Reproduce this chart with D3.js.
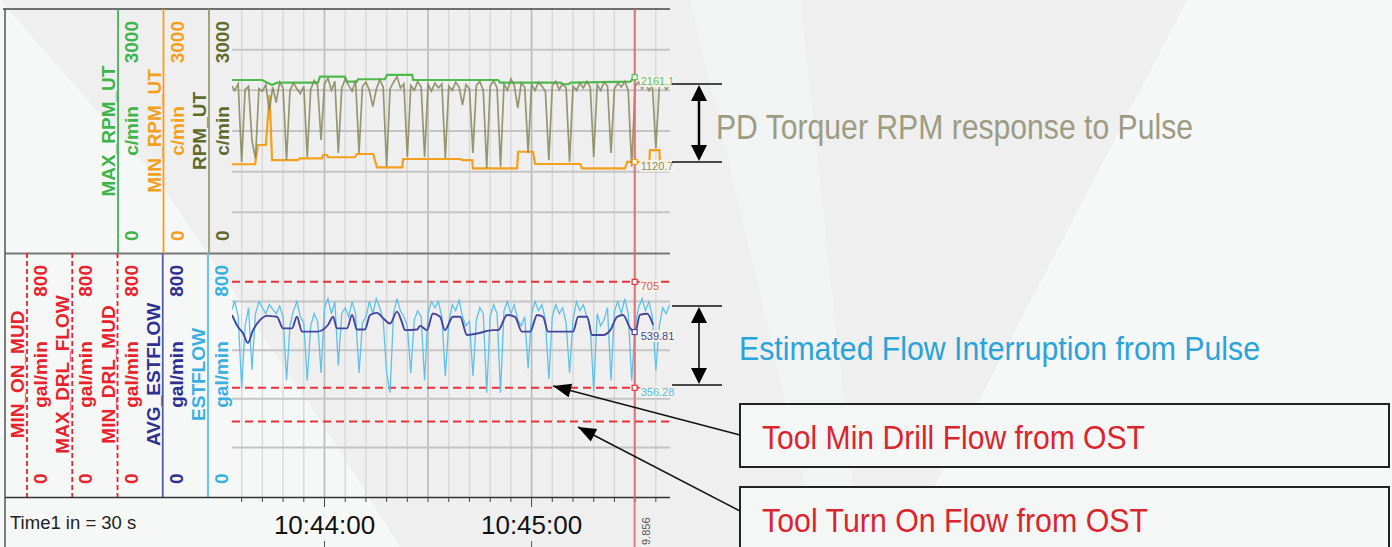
<!DOCTYPE html>
<html><head><meta charset="utf-8">
<script src="https://cdn.jsdelivr.net/npm/d3@7"></script>
<style>html,body{margin:0;padding:0;background:#efefef;}svg{display:block;}</style>
</head><body>
<svg id="chart" width="1392" height="547"></svg>
<script>
// ---------------- DATA ----------------
// seconds after 10:43:30
const rpmTimes = d3.range(3, 131);
const rpmUT = [
2060,2000,2080,1120,2010,2050,1380,1160,2020,1990,
2070,1750,2040,1850,2100,2030,1140,2000,2090,2020,
1960,2050,1180,2010,2120,2060,1390,2080,2150,2000,
2110,1230,2030,2140,2060,1990,2120,1230,2050,2100,
2000,1800,2010,2130,2040,1060,2020,2100,2170,2030,
2080,1180,2060,2000,2110,2040,1180,2070,1990,2090,
2030,2080,1170,2050,2000,2100,2040,1820,2070,2020,
1230,2060,2110,2000,1045,2050,2120,2030,1060,2080,
2000,2140,2060,1780,2090,2040,1230,2070,2000,2100,
2050,1990,1140,2060,2110,2010,2080,2030,1120,2050,
2000,2090,2030,2110,2040,1180,2070,2000,2100,2050,
1230,2020,2090,2040,2110,2000,1060,2050,2100,2020,
2080,2000,2060,1290,2040,2090,2010,2060];
const maxRpmT = [3.2,11.9,14.8,16.2,28.1,28.7,35.9,36.5,39.4,39.7,47.5,48.1,55.4,55.7,80.3,80.9,98.3,99.1,100.6,101.4,118.6,119.7];
const maxRpmV = [2127,2127,2066,2094,2094,2168,2168,2106,2106,2136,2136,2189,2189,2127,2127,2094,2094,2075,2075,2094,2106,2161];
const minRpmT = [3.2,9.9,10.7,13.0,14.1,14.8,22.3,22.9,29.3,29.6,30.7,31.0,38.8,39.4,44.1,45.2,52.5,52.8,69.3,69.9,72.8,73.0,85.8,86.1,90.4,91.0,104.1,104.6,117.1,117.7,124.1,124.3,127.0,127.2,130.1];
const minRpmV = [1091,1091,1328,1328,1943,1143,1143,1164,1164,1205,1205,1177,1177,1217,1217,1054,1054,1156,1156,1143,1143,1041,1041,1245,1245,1094,1094,1041,1041,1121,1121,1266,1266,1121,1121];

const flowTimes = d3.range(3, 131);
const estFlow = [
610,640,590,355,560,620,415,600,640,620,
600,630,615,600,625,590,380,560,610,640,
590,570,380,560,600,575,405,620,650,600,
640,430,600,620,590,640,600,405,570,590,
640,600,650,620,580,405,340,600,650,610,
590,560,405,580,610,590,380,600,640,620,
640,590,395,570,630,610,645,590,560,575,
395,580,620,600,340,590,630,600,340,610,
640,600,630,580,560,590,420,600,640,610,
630,580,385,590,630,600,620,570,405,580,
640,610,630,590,560,345,600,560,580,620,
380,610,640,600,650,600,380,560,620,650,
610,640,590,413,560,620,600,630];
const avgFlowT = [3.2,4.9,6.4,7.8,9.3,11.3,13.3,16.2,18.0,20.6,22.0,23.5,27.8,31.0,32.5,33.6,36.5,38.0,39.4,41.7,43.2,45.2,47.0,49.0,51.0,52.5,53.3,56.8,57.7,59.7,61.4,63.5,64.9,67.2,69.3,71.3,74.2,78.8,80.3,82.9,85.2,87.2,89.6,91.6,93.3,94.8,102.0,103.5,106.1,107.5,110.7,112.8,114.8,116.5,118.6,120.0,121.4,123.5,125.2];
const avgFlowV = [596,557,536,504,546,579,593,590,552,552,590,541,541,563,590,552,552,596,548,548,596,603,585,568,607,570,546,548,560,546,601,590,546,590,590,530,535,546,546,596,590,541,541,596,590,541,541,590,590,530,530,546,590,596,552,540,596,600,563];

const maxDrlFlow = 705, minDrlMud = 356.28, minOnMud = 245;
const cursorSec = 119.856;
const cursorLabels = ["2161.1","1120.7","705","539.81","356.28"];
const cursorValues = [2161.1, 1120.7, 705, 539.81, 356.28];
const cursorTimeTail = "9.856";

const topAxisNames = ["MAX_RPM_UT","MIN_RPM_UT","RPM_UT"];
const topAxisUnits = ["c/min","c/min","c/min"];
const topAxisColors = ["#3db54a","#f5a01c","#5f6b2c"];
const topLineColors = ["#3db54a","#f5a01c","#9a9a6e"];
const botAxisNames = ["MIN_ON_MUD","MAX_DRL_FLOW","MIN_DRL_MUD","AVG_ESTFLOW","ESTFLOW"];
const botAxisUnits = ["gal/min","gal/min","gal/min","gal/min","gal/min"];
const botAxisColors = ["#e8232b","#e8232b","#e8232b","#2e3192","#3ab0e2"];
const botLineColors = ["#e8232b","#e8232b","#e8232b","#5a5aa8","#5bbde8"];
const botAxisDashed = [true,true,true,false,false];
const timeLabelFmt = "%H:%M:%S";
const timeNote = "Time1 in = 30 s";
const annoRpm = "PD Torquer RPM response to Pulse";
const annoFlow = "Estimated Flow Interruption from Pulse";
const boxTexts = ["Tool Min Drill Flow from OST","Tool Turn On Flow from OST"];

// ---------------- DRAW ----------------
const svg = d3.select("#chart");
const base = new Date(2000,0,1,10,43,30).getTime();
const T = s => new Date(base + s*1000);

// background
svg.append("rect").attr("width",1392).attr("height",547).attr("fill","#efefef");
svg.append("path").attr("d","M0,0 L160,183 L330,435 L400,547 L0,547 Z").attr("fill","#f6f7f7");
svg.append("path").attr("d","M1187,0 L1392,0 L1392,547 L903,547 Z").attr("fill","#f6f7f7");
svg.append("path").attr("d","M690,0 L800,0 L860,547 L820,547 Z").attr("fill","#f2f3f3");

const x = d3.scaleTime().domain([T(3.2), T(130.1)]).range([232, 670]);
const yTop = d3.scaleLinear().domain([0,3000]).range([253, 9]);
const yBot = d3.scaleLinear().domain([0,800]).range([496, 253]);

const defs = svg.append("defs");
defs.append("clipPath").attr("id","clipTop").append("rect").attr("x",232).attr("y",9).attr("width",438).attr("height",244);
defs.append("clipPath").attr("id","clipBot").append("rect").attr("x",232).attr("y",253).attr("width",438).attr("height",243);

// grid
const g = svg.append("g");
const vt = x.ticks(d3.timeSecond.every(6));
g.selectAll(".vg").data(vt).join("line")
  .attr("x1",d=>x(d)).attr("x2",d=>x(d)).attr("y1",9).attr("y2",497)
  .attr("stroke",d=>d.getSeconds()%30===0?"#b9b9b9":"#d6d6d6")
  .attr("stroke-width",d=>d.getSeconds()%30===0?1.6:1.3);
g.selectAll(".hgt").data(d3.range(500,3000,500)).join("line")
  .attr("x1",232).attr("x2",670).attr("y1",d=>yTop(d)).attr("y2",d=>yTop(d))
  .attr("stroke","#c4c4c4").attr("stroke-width",2);
g.selectAll(".hgb").data(d3.range(160,800,160)).join("line")
  .attr("x1",232).attr("x2",670).attr("y1",d=>yBot(d)).attr("y2",d=>yBot(d))
  .attr("stroke","#c4c4c4").attr("stroke-width",2);

// frame
svg.append("line").attr("x1",3).attr("x2",670).attr("y1",9).attr("y2",9).attr("stroke","#444").attr("stroke-width",1.5);
svg.append("line").attr("x1",5).attr("x2",670).attr("y1",253.5).attr("y2",253.5).attr("stroke","#777").attr("stroke-width",1.8);
svg.append("line").attr("x1",5).attr("x2",5).attr("y1",9).attr("y2",547).attr("stroke","#555").attr("stroke-width",1.5);

// left axes
const lblFont = "'Liberation Sans', Arial, sans-serif";
function axisBlock(lineX, y0, y1, name, unit, color, lineColor, dashed, maxLbl){
  const mid = (y0+y1)/2;
  const ln = svg.append("line").attr("x1",lineX).attr("x2",lineX).attr("y1",y0).attr("y2",y1+1)
    .attr("stroke",lineColor).attr("stroke-width",1.8);
  if(dashed) ln.attr("stroke-dasharray","5,3");
  const t = (tx, ty, txt, anchor) => svg.append("text").attr("transform",`translate(${tx},${ty}) rotate(-90)`)
    .attr("text-anchor",anchor).attr("font-family",lblFont).attr("font-weight","bold")
    .attr("font-size",19).attr("fill",color).text(txt);
  t(lineX-3, mid, name, "middle");
  t(lineX+20, mid, unit, "middle");
  t(lineX+20, y0+12, maxLbl, "end");
  t(lineX+20, y1-12, "0", "start");
}
topAxisNames.forEach((n,i)=>axisBlock(118+i*45.5, 9, 253, n, topAxisUnits[i], topAxisColors[i], topLineColors[i], false, d3.format("d")(yTop.domain()[1])));
botAxisNames.forEach((n,i)=>axisBlock(27+i*45.25, 253, 496, n, botAxisUnits[i], botAxisColors[i], botLineColors[i], botAxisDashed[i], d3.format("d")(yBot.domain()[1])));

// x axis
svg.append("line").attr("x1",5).attr("x2",670).attr("y1",497.5).attr("y2",497.5).attr("stroke","#333").attr("stroke-width",1.6);
svg.selectAll(".xt").data(vt).join("line")
  .attr("x1",d=>x(d)).attr("x2",d=>x(d)).attr("y1",497)
  .attr("y2",d=>d.getSeconds()===0?507:502).attr("stroke","#444").attr("stroke-width",1);
const minuteTicks = x.ticks(d3.timeMinute.every(1));
svg.selectAll(".xl").data(minuteTicks).join("text")
  .attr("x",d=>x(d)).attr("y",534).attr("text-anchor","middle")
  .attr("font-family",lblFont).attr("font-size",26).attr("fill","#111")
  .text(d=>d3.timeFormat(timeLabelFmt)(d));
svg.selectAll(".xb").data(minuteTicks).join("line")
  .attr("x1",d=>x(d)).attr("x2",d=>x(d)).attr("y1",541).attr("y2",547).attr("stroke","#555");
svg.append("text").attr("x",10).attr("y",529).attr("font-family",lblFont).attr("font-size",18.5).attr("fill","#222").text(timeNote);

// series
const gTop = svg.append("g").attr("clip-path","url(#clipTop)");
const gBot = svg.append("g").attr("clip-path","url(#clipBot)");
const lineTop = d3.line().x(d=>x(T(d[0]))).y(d=>yTop(d[1]));
const lineBot = d3.line().x(d=>x(T(d[0]))).y(d=>yBot(d[1]));
const lineBotSmooth = d3.line().x(d=>x(T(d[0]))).y(d=>yBot(d[1])).curve(d3.curveMonotoneX);

gTop.append("path").attr("d",lineTop(d3.zip(maxRpmT,maxRpmV))).attr("fill","none").attr("stroke","#4cbb4a").attr("stroke-width",2.2);
gTop.append("path").attr("d",lineTop(d3.zip(minRpmT,minRpmV))).attr("fill","none").attr("stroke","#f5a01c").attr("stroke-width",2.2);
gTop.append("path").attr("d",lineTop(d3.zip(rpmTimes,rpmUT))).attr("fill","none").attr("stroke","#85875a").attr("stroke-opacity",0.85).attr("stroke-width",1.7);

const dashes = [maxDrlFlow, minDrlMud, minOnMud];
gBot.selectAll(".rd").data(dashes).join("line")
  .attr("x1",232).attr("x2",670).attr("y1",d=>yBot(d)).attr("y2",d=>yBot(d))
  .attr("stroke","#e8323a").attr("stroke-width",2).attr("stroke-dasharray","8,5");
gBot.append("path").attr("d",lineBot(d3.zip(flowTimes,estFlow))).attr("fill","none").attr("stroke","#5fc0ea").attr("stroke-width",1.3);
gBot.append("path").attr("d",lineBotSmooth(d3.zip(avgFlowT,avgFlowV))).attr("fill","none").attr("stroke","#45459e").attr("stroke-width",1.9);

// cursor
const cx = x(T(cursorSec));
svg.append("line").attr("x1",cx).attr("x2",cx).attr("y1",9).attr("y2",547).attr("stroke","#e46a6a").attr("stroke-opacity",0.85).attr("stroke-width",2);
const curY = [yTop(cursorValues[0]), yTop(cursorValues[1]), yBot(cursorValues[2]), yBot(cursorValues[3]), yBot(cursorValues[4])];
const curCol = ["#4cbb4a","#f5a01c","#e8323a","#45459e","#e8323a"];
const lblCol = ["#6cbf5c","#8c8c5c","#e05a50","#45459e","#55bce8"];
curY.forEach((yy,i)=>{
  svg.append("rect").attr("x",cx-2.5).attr("y",yy-2.5).attr("width",5).attr("height",5).attr("fill","#fff").attr("stroke",curCol[i]).attr("stroke-width",1.2);
  const tx = svg.append("text").attr("x",cx+6).attr("y",yy+8).attr("font-family",lblFont).attr("font-size",11).attr("fill",lblCol[i]).text(cursorLabels[i]);
  const bb = tx.node().getBBox();
  svg.insert("rect", () => tx.node()).attr("x",bb.x-1).attr("y",bb.y).attr("width",bb.width+2).attr("height",bb.height).attr("fill","#f6f3ea").attr("opacity",0.9);
});
svg.append("text").attr("transform",`translate(${cx+15},545) rotate(-90)`).attr("text-anchor","start")
  .attr("font-family",lblFont).attr("font-size",11).attr("fill","#555").text(cursorTimeTail);

// annotations
function hline(x1,x2,y,w){svg.append("line").attr("x1",x1).attr("x2",x2).attr("y1",y).attr("y2",y).attr("stroke","#111").attr("stroke-width",w);}
function head(tx,ty,ang,len,hw){
  const bx = tx - len*Math.cos(ang), by = ty - len*Math.sin(ang);
  const px = -Math.sin(ang)*hw, py = Math.cos(ang)*hw;
  svg.append("path").attr("d",`M${tx},${ty} L${bx+px},${by+py} L${bx-px},${by-py} Z`).attr("fill","#000");
}
function darrow(xa,ya,yb,w){
  svg.append("line").attr("x1",xa).attr("x2",xa).attr("y1",ya+8).attr("y2",yb-8).attr("stroke","#000").attr("stroke-width",w);
  head(xa,ya,-Math.PI/2,16,8); head(xa,yb,Math.PI/2,16,8);
}
hline(672,722,84,1.3); hline(672,722,162,1.3); darrow(699,85,161,2.5);
hline(672,722,306,1.3); hline(672,722,385,1.3); darrow(699,307,384,1.5);

svg.append("text").attr("x",716).attr("y",139).attr("font-family",lblFont).attr("font-size",35)
  .attr("fill","#9c9c84").attr("textLength",477).attr("lengthAdjust","spacingAndGlyphs").text(annoRpm);
svg.append("text").attr("x",739).attr("y",360).attr("font-family",lblFont).attr("font-size",34)
  .attr("fill","#2aa3d8").attr("textLength",521).attr("lengthAdjust","spacingAndGlyphs").text(annoFlow);

svg.append("rect").attr("x",740).attr("y",404).attr("width",649).attr("height",63).attr("fill","#f5f6f6").attr("stroke","#222").attr("stroke-width",2);
svg.append("rect").attr("x",740).attr("y",487).attr("width",649).attr("height",80).attr("fill","#f5f6f6").attr("stroke","#222").attr("stroke-width",2);
svg.append("text").attr("x",762).attr("y",449).attr("font-family",lblFont).attr("font-size",33)
  .attr("fill","#d9262e").attr("textLength",383).attr("lengthAdjust","spacingAndGlyphs").text(boxTexts[0]);
svg.append("text").attr("x",762).attr("y",532).attr("font-family",lblFont).attr("font-size",33)
  .attr("fill","#d9262e").attr("textLength",386).attr("lengthAdjust","spacingAndGlyphs").text(boxTexts[1]);

function pointer(x1,y1,x2,y2){
  svg.append("line").attr("x1",x1).attr("y1",y1).attr("x2",x2).attr("y2",y2).attr("stroke","#111").attr("stroke-width",1.5);
  head(x2,y2,Math.atan2(y2-y1,x2-x1),18,7);
}
pointer(740,435,553,386);
pointer(740,511,578,427);
</script>
</body></html>
